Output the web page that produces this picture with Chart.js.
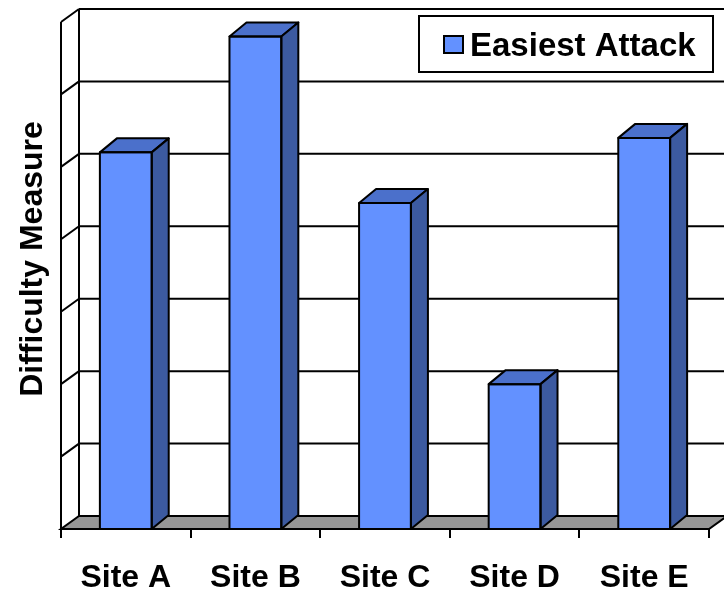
<!DOCTYPE html>
<html lang="en">
<head>
    <meta charset="UTF-8">
    <title>Easiest Attack</title>
    <style>
        body {
            margin: 0;
            padding: 0;
            background-color: #fff;
        }

        #chart {
            display: block;
        }
    </style>
    <script src="https://cdn.jsdelivr.net/npm/chart.js"></script>
</head>
<body>
    <canvas id="chart" width="724" height="590"></canvas>
    <script>
        // chart data
        const categories = ['Site A', 'Site B', 'Site C', 'Site D', 'Site E'];
        const easiestAttack = [5.2, 6.8, 4.5, 2.0, 5.4];
        const seriesName = 'Easiest Attack';
        const axisTitle = 'Difficulty Measure';
        const yMax = 7;

        const FONT = "'Liberation Sans', Arial, sans-serif";
        const FRONT = '#6391ff';
        const TOP = '#4b70cb';
        const SIDE = '#3c5aa0';
        const FLOOR = '#969696';

        // depth of the walls and of the bars
        const WALL_DX = 18, WALL_DY = 13;
        const BAR_DX = 17, BAR_DY = 14;

        function poly(ctx, pts, fill) {
            ctx.beginPath();
            ctx.moveTo(pts[0][0], pts[0][1]);
            for (let i = 1; i < pts.length; i++) ctx.lineTo(pts[i][0], pts[i][1]);
            ctx.closePath();
            if (fill) {
                ctx.fillStyle = fill;
                ctx.fill();
            }
            ctx.stroke();
        }

        const walls3d = {
            id: 'walls3d',
            beforeDatasetsDraw(chart) {
                const ctx = chart.ctx;
                const area = chart.chartArea;
                const y = chart.scales.y;
                const x0 = area.left;
                const y0 = y.getPixelForValue(0);
                ctx.save();
                ctx.strokeStyle = '#000';
                ctx.lineWidth = 2;

                // floor
                poly(ctx, [
                    [x0, y0], [area.right, y0],
                    [area.right + WALL_DX, y0 - WALL_DY], [x0 + WALL_DX, y0 - WALL_DY]
                ], FLOOR);

                // back wall grid + side wall diagonals
                for (let v = 1; v <= yMax; v++) {
                    const py = y.getPixelForValue(v);
                    ctx.beginPath();
                    ctx.moveTo(x0 + WALL_DX, py - WALL_DY);
                    ctx.lineTo(chart.width + 10, py - WALL_DY);
                    ctx.moveTo(x0, py);
                    ctx.lineTo(x0 + WALL_DX, py - WALL_DY);
                    ctx.stroke();
                }

                // wall edges
                const yTop = y.getPixelForValue(yMax);
                ctx.beginPath();
                ctx.moveTo(x0, yTop);
                ctx.lineTo(x0, y0);
                ctx.moveTo(x0 + WALL_DX, yTop - WALL_DY);
                ctx.lineTo(x0 + WALL_DX, y0 - WALL_DY);
                ctx.stroke();
                ctx.restore();
            },
            afterDatasetsDraw(chart) {
                const ctx = chart.ctx;
                ctx.save();
                ctx.strokeStyle = '#000';
                ctx.lineWidth = 2;
                ctx.lineJoin = 'round';
                chart.getDatasetMeta(0).data.forEach(bar => {
                    const l = bar.x - bar.width / 2;
                    const r = bar.x + bar.width / 2;
                    const t = bar.y;
                    const b = bar.base;
                    poly(ctx, [[l, t], [r, t], [r + BAR_DX, t - BAR_DY], [l + BAR_DX, t - BAR_DY]], TOP);
                    poly(ctx, [[r, t], [r + BAR_DX, t - BAR_DY], [r + BAR_DX, b - BAR_DY], [r, b]], SIDE);
                    ctx.strokeRect(l, t, r - l, b - t);
                });
                ctx.restore();
            },
            afterDraw(chart) {
                const ctx = chart.ctx;
                ctx.save();

                // axis title
                ctx.fillStyle = '#000';
                ctx.font = 'bold 32px ' + FONT;
                ctx.textAlign = 'center';
                ctx.textBaseline = 'alphabetic';
                ctx.translate(42, 259);
                ctx.rotate(-Math.PI / 2);
                ctx.fillText(axisTitle, 0, 0);
                ctx.setTransform(1, 0, 0, 1, 0, 0);

                // legend
                ctx.strokeStyle = '#000';
                ctx.lineWidth = 2;
                ctx.fillStyle = '#fff';
                ctx.fillRect(419, 16, 294, 56);
                ctx.strokeRect(419, 16, 294, 56);
                ctx.fillStyle = FRONT;
                ctx.fillRect(444, 36, 19, 17);
                ctx.strokeRect(444, 36, 19, 17);
                ctx.fillStyle = '#000';
                ctx.font = 'bold 33px ' + FONT;
                ctx.textAlign = 'left';
                ctx.fillText(seriesName, 470, 56);
                ctx.restore();
            }
        };

        const ctx = document.getElementById('chart').getContext('2d');
        new Chart(ctx, {
            type: 'bar',
            data: {
                labels: categories,
                datasets: [{
                    label: seriesName,
                    data: easiestAttack,
                    backgroundColor: FRONT,
                    borderColor: '#000',
                    borderWidth: 0,
                    barPercentage: 0.4,
                    categoryPercentage: 1
                }]
            },
            options: {
                responsive: false,
                animation: false,
                layout: {
                    padding: { top: 22, right: 15, left: 0, bottom: 0 }
                },
                plugins: {
                    legend: { display: false },
                    tooltip: { enabled: false }
                },
                scales: {
                    x: {
                        afterFit(scale) { scale.height = 61; },
                        grid: {
                            display: true,
                            drawOnChartArea: false,
                            offset: true,
                            tickLength: 9,
                            color: '#000',
                            lineWidth: 2
                        },
                        border: { display: true, color: '#000', width: 2 },
                        ticks: {
                            color: '#000',
                            padding: 21,
                            font: { family: FONT, size: 32, weight: 'bold' }
                        }
                    },
                    y: {
                        min: 0,
                        max: yMax,
                        afterFit(scale) { scale.width = 61; },
                        grid: { display: false },
                        border: { display: false },
                        ticks: { display: false, stepSize: 1 }
                    }
                }
            },
            plugins: [walls3d]
        });
    </script>
</body>
</html>
